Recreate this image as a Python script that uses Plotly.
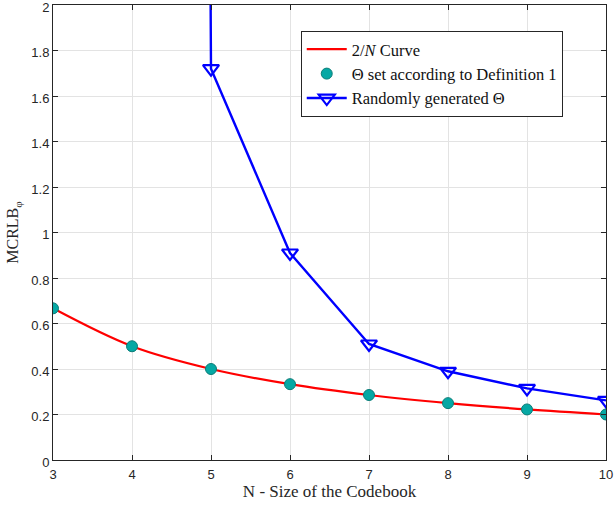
import plotly.graph_objects as go

# Codebook sizes
N = [3, 4, 5, 6, 7, 8, 9, 10]

# MCRLB for Theta set according to Definition 1 (equals 2/N)
mcrlb_def1 = [0.6667, 0.5, 0.4, 0.3333, 0.2857, 0.25, 0.2222, 0.2]

# MCRLB for randomly generated Theta (N=3,4 lie far above the plotted range)
mcrlb_random = [350.0, 60.0, 1.72, 0.91, 0.51, 0.39, 0.315, 0.262]

x_ticks = [3, 4, 5, 6, 7, 8, 9, 10]
y_ticks = [0, 0.2, 0.4, 0.6, 0.8, 1, 1.2, 1.4, 1.6, 1.8, 2]
y_tick_text = ["0", "0.2", "0.4", "0.6", "0.8", "1", "1.2", "1.4", "1.6", "1.8", "2"]

serif = "Liberation Serif, DejaVu Serif, serif"
sans = "Liberation Sans, Arial, sans-serif"

fig = go.Figure()

fig.add_trace(go.Scatter(
    x=N, y=mcrlb_def1, mode="lines",
    line=dict(color="#ff0000", width=2.2, shape="spline", smoothing=1.0),
    name="2/<i>N</i> Curve",
))

fig.add_trace(go.Scatter(
    x=N, y=mcrlb_def1, mode="markers",
    marker=dict(color="#06a8a4", size=11, line=dict(color="#0b7d78", width=1)),
    name="Θ set according to Definition 1",
))

fig.add_trace(go.Scatter(
    x=N, y=mcrlb_random, mode="lines+markers",
    line=dict(color="#0000ff", width=2.4),
    marker=dict(symbol="triangle-down-open", size=14, color="#0000ff",
                line=dict(color="#0000ff", width=2.2)),
    name="Randomly generated Θ",
))

axis_common = dict(
    showline=True, linecolor="#262626", linewidth=1,
    mirror="allticks", ticks="inside", ticklen=5, tickcolor="#262626",
    showgrid=True, gridcolor="#e3e3e3", gridwidth=1,
    zeroline=False, ticklabeloverflow="allow", automargin=False,
    tickfont=dict(family=sans, size=13, color="#262626"),
)

fig.update_layout(
    width=614, height=506,
    margin=dict(l=53, r=8, t=5, b=46, autoexpand=False),
    paper_bgcolor="white", plot_bgcolor="white",
    showlegend=True,
    legend=dict(
        x=0.448, y=0.943, xanchor="left", yanchor="top",
        bgcolor="white", bordercolor="#262626", borderwidth=1,
        font=dict(family=serif, size=16.5, color="#111111"),
        tracegroupgap=0, itemwidth=40,
    ),
    xaxis=dict(
        range=[3, 10], tickvals=x_ticks, ticklabelstandoff=2,
        title=dict(text="N - Size of the Codebook", standoff=4,
                   font=dict(family=serif, size=17, color="#262626")),
        **axis_common,
    ),
    yaxis=dict(
        range=[0, 2], tickvals=y_ticks, ticktext=y_tick_text,
        ticklabelshift=2,
        title=dict(text="MCRLB<sub>φ</sub>", standoff=8,
                   font=dict(family=serif, size=16, color="#262626")),
        **axis_common,
    ),
)

fig.write_html("out.html")
